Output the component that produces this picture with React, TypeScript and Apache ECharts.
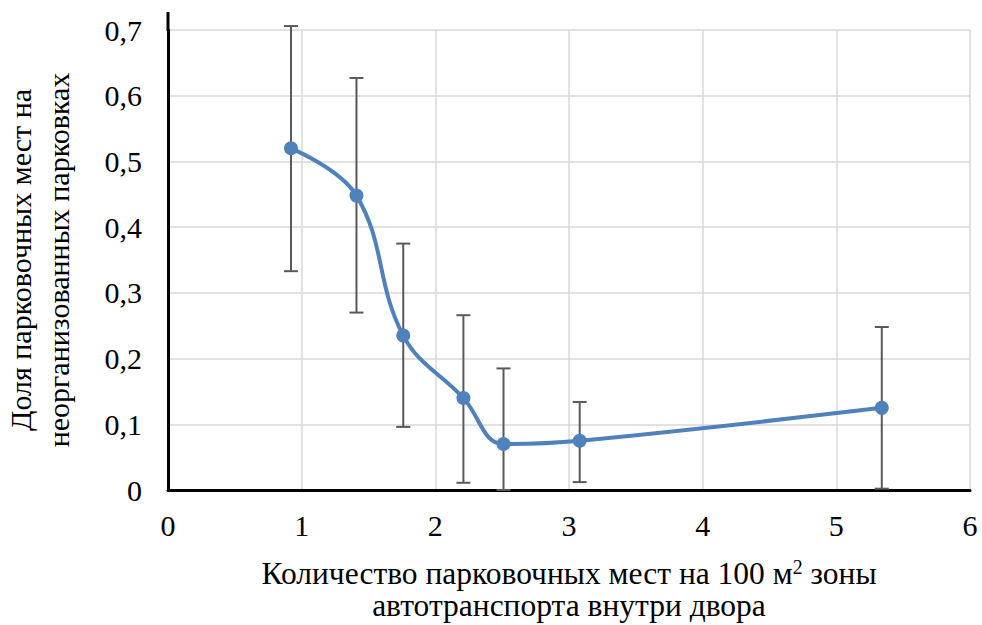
import React, { useEffect, useRef } from "react";
import * as echarts from "echarts";

const xValues = [0.92, 1.41, 1.76, 2.21, 2.51, 3.08, 5.34];
const yValues = [0.52, 0.448, 0.235, 0.14, 0.07, 0.075, 0.125];
const errLow = [0.333, 0.27, 0.096, 0.011, 0.0, 0.012, 0.002];
const errHigh = [0.706, 0.627, 0.375, 0.266, 0.185, 0.134, 0.248];

const xTitle = "Количество парковочных мест на 100 м{sup|2} зоны\nавтотранспорта внутри двора";
const yTitle = "Доля парковочных мест на\nнеорганизованных парковках";

const FONT = "'Liberation Serif', 'Times New Roman', serif";

export default function App() {
  const ref = useRef<HTMLDivElement>(null);
  useEffect(() => {
    if (!ref.current) return;
    const chart = echarts.init(ref.current, null, { renderer: "svg" });
    const lineData = xValues.map((x, i) => [x, yValues[i]]);
    const errData = xValues.map((x, i) => [x, errLow[i], errHigh[i]]);
    chart.setOption({
      animation: false,
      backgroundColor: "#ffffff",
      grid: { left: 168, right: 12, top: 30, bottom: 135, containLabel: false, outerBoundsMode: "none" },
      xAxis: {
        type: "value",
        min: 0,
        max: 6,
        interval: 1,
        name: xTitle,
        nameLocation: "middle",
        nameGap: 67,
        nameTextStyle: {
          fontFamily: FONT,
          fontSize: 31.5,
          color: "#000",
          lineHeight: 32,
          verticalAlign: "top",
          rich: {
            sup: { fontFamily: FONT, fontSize: 20, verticalAlign: "top", lineHeight: 24, color: "#000" },
          },
        },
        axisLine: { show: true, onZero: false, lineStyle: { color: "#000", width: 3 } },
        axisTick: { show: false },
        axisLabel: { fontFamily: FONT, fontSize: 30, color: "#000", margin: 20, formatter: (v: number) => String(v) },
        splitLine: { show: true, lineStyle: { color: "#d9d9d9", width: 1.5 } },
      },
      yAxis: {
        type: "value",
        min: 0,
        max: 0.7,
        interval: 0.1,
        name: yTitle,
        nameLocation: "middle",
        nameRotate: 90,
        nameGap: 91,
        nameTextStyle: { fontFamily: FONT, fontSize: 30, color: "#000", lineHeight: 38 },
        axisLine: { show: true, onZero: false, lineStyle: { color: "#000", width: 3 } },
        axisTick: { show: false },
        axisLabel: {
          fontFamily: FONT,
          fontSize: 30,
          color: "#000",
          margin: 26,
          formatter: (v: number) => (v === 0 ? "0" : v.toFixed(1).replace(".", ",")),
        },
        splitLine: { show: true, lineStyle: { color: "#d9d9d9", width: 1.5 } },
      },
      graphic: [
        {
          type: "line",
          shape: { x1: 168, y1: 12, x2: 168, y2: 31 },
          style: { stroke: "#000", lineWidth: 3 },
          z: 10,
        },
      ],
      series: [
        {
          type: "custom",
          z: 1,
          data: errData,
          renderItem: (params: any, api: any) => {
            const x = api.value(0);
            const top = api.coord([x, api.value(2)]);
            const bot = api.coord([x, api.value(1)]);
            const hw = 7;
            const style = { stroke: "#595959", lineWidth: 2 };
            return {
              type: "group",
              children: [
                { type: "line", shape: { x1: top[0], y1: top[1], x2: bot[0], y2: bot[1] }, style },
                { type: "line", shape: { x1: top[0] - hw, y1: top[1], x2: top[0] + hw, y2: top[1] }, style },
                { type: "line", shape: { x1: bot[0] - hw, y1: bot[1], x2: bot[0] + hw, y2: bot[1] }, style },
              ],
            };
          },
        },
        {
          type: "line",
          z: 5,
          data: lineData,
          smooth: 0.4,
          symbol: "circle",
          symbolSize: 14,
          itemStyle: { color: "#4f81bd" },
          lineStyle: { color: "#4f81bd", width: 4 },
        },
      ],
    });
    return () => chart.dispose();
  }, []);
  return <div ref={ref} style={{ width: 982, height: 625, position: "absolute", left: 0, top: 0 }} />;
}
